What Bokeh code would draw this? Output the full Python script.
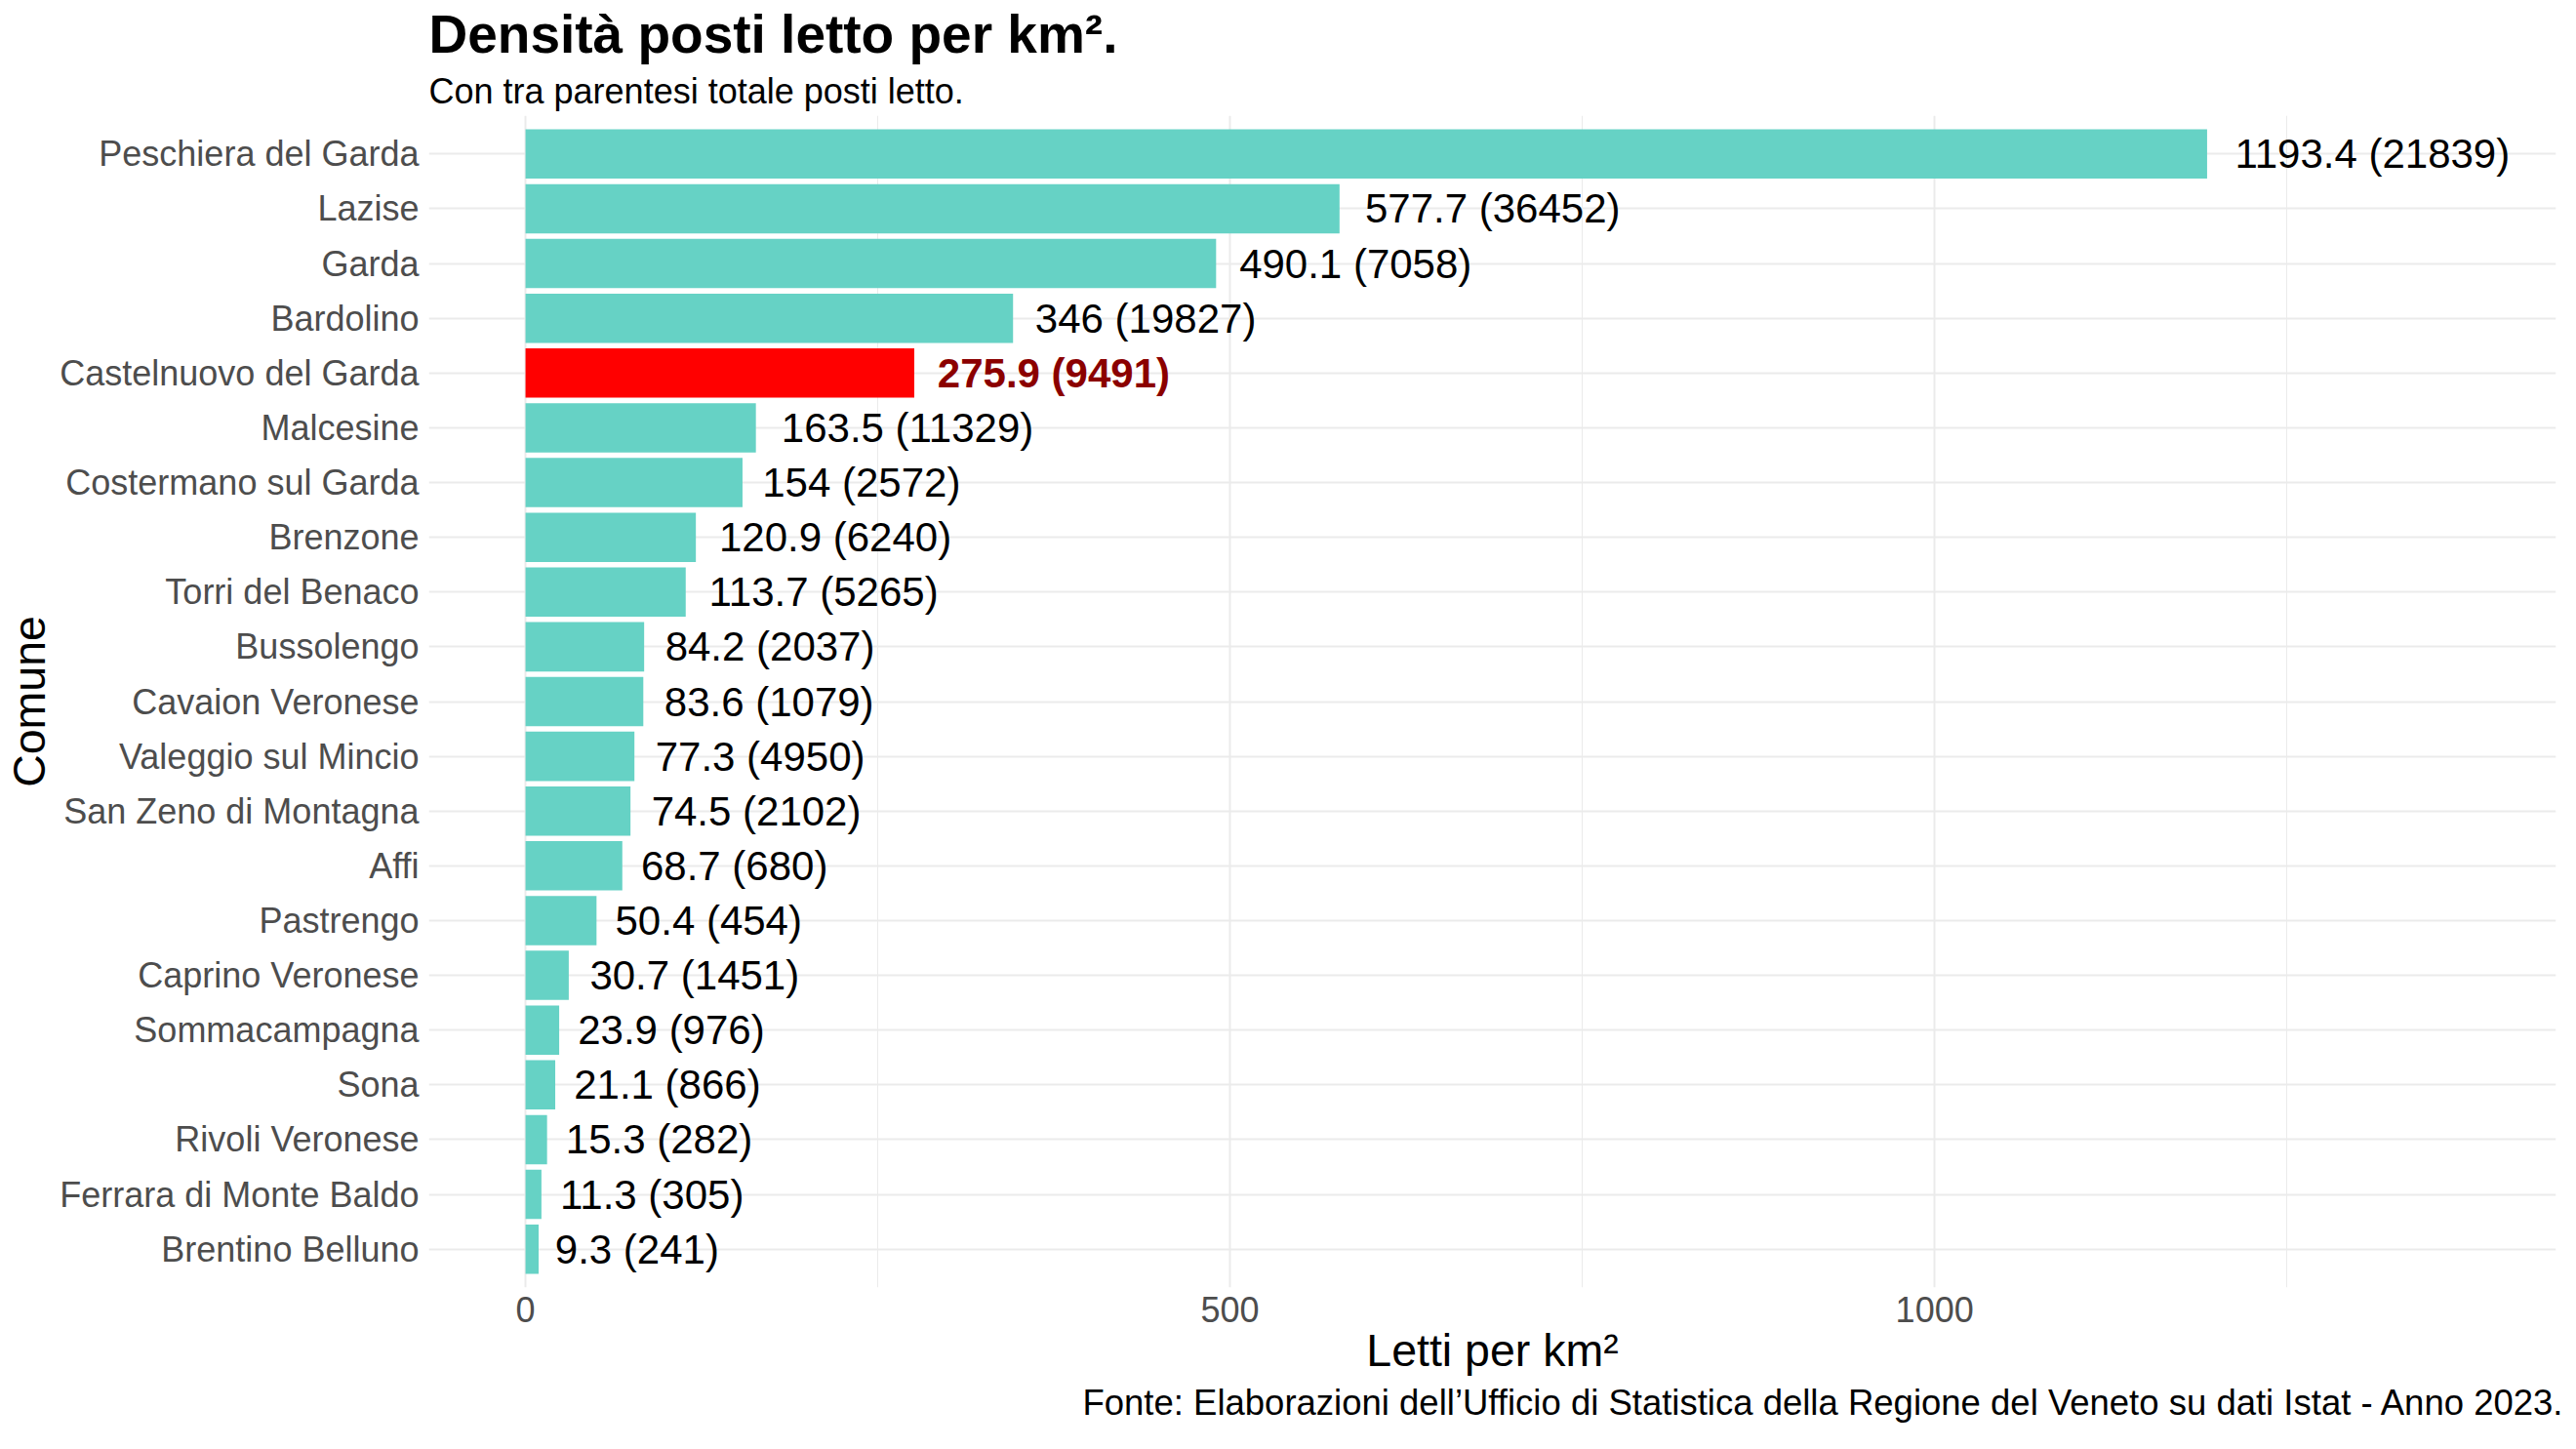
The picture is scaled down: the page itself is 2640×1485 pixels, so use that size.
from bokeh.plotting import figure
from bokeh.models import ColumnDataSource, FactorRange, Range1d, FixedTicker, Title
from bokeh.embed import file_html
from bokeh.resources import INLINE
from bokeh.core.properties import value

comuni = ["Peschiera del Garda", "Lazise", "Garda", "Bardolino", "Castelnuovo del Garda",
          "Malcesine", "Costermano sul Garda", "Brenzone", "Torri del Benaco", "Bussolengo",
          "Cavaion Veronese", "Valeggio sul Mincio", "San Zeno di Montagna", "Affi", "Pastrengo",
          "Caprino Veronese", "Sommacampagna", "Sona", "Rivoli Veronese", "Ferrara di Monte Baldo",
          "Brentino Belluno"]
densita = [1193.4, 577.7, 490.1, 346, 275.9, 163.5, 154, 120.9, 113.7, 84.2, 83.6, 77.3,
           74.5, 68.7, 50.4, 30.7, 23.9, 21.1, 15.3, 11.3, 9.3]
posti_letto = [21839, 36452, 7058, 19827, 9491, 11329, 2572, 6240, 5265, 2037, 1079, 4950,
               2102, 680, 454, 1451, 976, 866, 282, 305, 241]
evidenziato = "Castelnuovo del Garda"
x_ticks = [0, 500, 1000]
x_minor_ticks = [250, 750, 1250]

FONT = "Liberation Sans"
TEAL = "#66D2C5"
LABEL_PX = 42

labels = ["%g (%d)" % (d, n) for d, n in zip(densita, posti_letto)]

# approximate Arial advance widths (em) to emulate ggplot hjust = -0.1
W = {c: 0.556 for c in "0123456789"}
W.update({".": 0.278, " ": 0.278, "(": 0.333, ")": 0.333})
offsets = [0.1 * LABEL_PX * sum(W.get(c, 0.556) for c in t) for t in labels]

src = ColumnDataSource(dict(
    comune=comuni, densita=densita, label=labels, off=offsets,
    fill=["#FF0000" if c == evidenziato else TEAL for c in comuni],
    tcol=["#8B0000" if c == evidenziato else "#000000" for c in comuni],
    tstyle=["bold" if c == evidenziato else "normal" for c in comuni],
))

p = figure(width=2630, height=1469, output_backend="svg", toolbar_location=None,
           y_range=FactorRange(factors=list(reversed(comuni)), range_padding=0.2,
                               range_padding_units="absolute"),
           x_range=Range1d(-68.6, 1441), title=None,
           min_border_left=439, min_border_right=11, min_border_top=117, min_border_bottom=150)
p.outline_line_color = None
p.background_fill_color = "white"
p.border_fill_color = "white"

p.hbar(y="comune", left=0, right="densita", height=0.9, fill_color="fill", line_color=None, source=src)
p.text(x="densita", y="comune", text="label", x_offset="off", text_align="left",
       text_baseline="middle", text_font=value(FONT), text_font_size="%dpx" % LABEL_PX,
       text_color="tcol", text_font_style="tstyle", source=src)

p.xaxis.ticker = FixedTicker(ticks=x_ticks, minor_ticks=x_minor_ticks)
for ax in (p.xaxis[0], p.yaxis[0]):
    ax.axis_line_color = None
    ax.major_tick_line_color = None
    ax.minor_tick_line_color = None
    ax.major_tick_out = 0
    ax.major_tick_in = 0
    ax.minor_tick_out = 0
    ax.minor_tick_in = 0
    ax.major_label_text_font = FONT
    ax.major_label_text_font_size = "36px"
    ax.major_label_text_color = "#4D4D4D"
    ax.axis_label_text_font = FONT
    ax.axis_label_text_font_size = "46.5px"
    ax.axis_label_text_font_style = "normal"
    ax.axis_label_text_color = "#000000"
p.xaxis.axis_label = "Letti per km²"
p.yaxis.axis_label = "Comune"
p.xaxis.major_label_standoff = 9
p.xaxis.axis_label_standoff = 0
p.yaxis.major_label_standoff = 10
p.yaxis.axis_label_standoff = 2

p.xgrid.grid_line_color = "#EBEBEB"
p.xgrid.grid_line_width = 2
p.xgrid.minor_grid_line_color = "#EBEBEB"
p.xgrid.minor_grid_line_width = 1
p.ygrid.grid_line_color = "#EBEBEB"
p.ygrid.grid_line_width = 2

p.add_layout(Title(text="Con tra parentesi totale posti letto.", text_font=FONT,
                   text_font_size="36px", text_font_style="normal", text_color="#000000",
                   align="left", standoff=9), "above")
p.add_layout(Title(text="Densità posti letto per km².", text_font=FONT, text_font_size="55px",
                   text_font_style="bold", text_color="#000000", align="left", standoff=2),
             "above")
p.add_layout(Title(text="Fonte: Elaborazioni dell’Ufficio di Statistica della Regione del Veneto su dati Istat - Anno 2023.",
                   text_font=FONT, text_font_size="36.5px", text_font_style="normal",
                   text_color="#000000", align="right", offset=-9, standoff=5), "below")

open("out.html", "w").write(file_html(p, INLINE))
